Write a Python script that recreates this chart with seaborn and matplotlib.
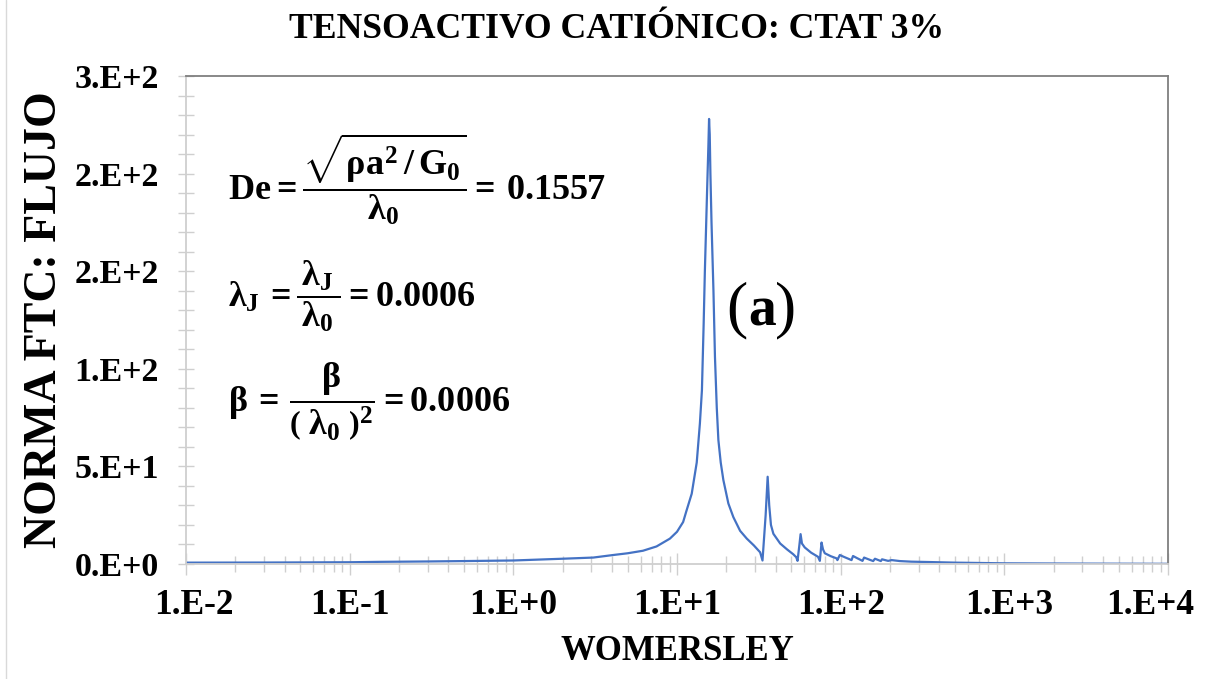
import matplotlib
matplotlib.use("Agg")
import matplotlib.pyplot as plt
from matplotlib.ticker import FixedLocator, MultipleLocator, NullFormatter, LogLocator
from matplotlib.lines import Line2D
from matplotlib.transforms import ScaledTranslation
import seaborn as sns
import pandas as pd

# Womersley number and normalized flow response (FTC norm)
womersley = [
    0.01, 0.03, 0.1, 0.153, 0.3, 0.5, 1.0, 2.0, 3.08, 4.07, 5.0, 6.2, 7.5, 9.05,
    10.0, 10.9, 11.4, 12.3, 13.2, 13.8, 14.2, 14.55, 14.8, 15.05, 15.28, 15.56,
    15.7, 15.85, 16.0, 16.25, 16.7, 17.06, 17.5, 17.9, 18.5, 19.2, 20.6, 22.1,
    24.3, 26.7, 29.5, 32.2, 33.3, 34.8, 35.8, 36.6, 37.5, 38.8, 42.7, 47.0, 51.3,
    53.5, 54.5, 56.0, 56.9, 58.0, 60.3, 66.0, 72.7, 74.6, 76.4, 78.0, 80.0, 87.0,
    94.3, 95.5, 98.8, 105, 116.5, 119, 126, 136, 139, 148, 158, 162, 170, 176,
    179, 195, 205, 230, 270, 350, 500, 1000, 3000, 10000,
]
norma_ftc = [
    0.7, 0.75, 0.9, 1.1, 1.3, 1.5, 1.8, 2.7, 3.3, 4.6, 5.5, 6.8, 9.0, 13.0,
    16.5, 21.5, 27.0, 36.0, 52.0, 72.0, 89.0, 123.0, 150.0, 172.0, 192.0, 215.0,
    228.0, 220.0, 200.0, 175.0, 140.0, 106.0, 80.0, 63.5, 52.0, 43.0, 31.0, 24.0,
    17.0, 13.0, 9.5, 6.0, 1.8, 25.0, 44.7, 30.0, 20.0, 15.5, 10.5, 7.5, 5.0,
    3.5, 1.6, 10.0, 15.3, 10.5, 8.5, 5.8, 3.7, 1.6, 11.0, 7.5, 5.5, 4.0,
    2.9, 2.0, 4.6, 3.6, 2.0, 4.1, 3.0, 1.6, 3.3, 2.4, 1.5, 2.7, 2.0, 1.5,
    2.4, 1.6, 2.0, 1.5, 1.2, 1.0, 0.7, 0.35, 0.2, 0.1,
]

x_ticks = [1e-2, 1e-1, 1e0, 1e1, 1e2, 1e3, 1e4]
x_tick_labels = ["1.E-2", "1.E-1", "1.E+0", "1.E+1", "1.E+2", "1.E+3", "1.E+4"]
y_ticks = [0, 50, 100, 150, 200, 250]
y_tick_labels = ["0.E+0", "5.E+1", "1.E+2", "2.E+2", "2.E+2", "3.E+2"]

sns.set_theme(style="white")
plt.rcParams["font.family"] = ["Liberation Serif", "DejaVu Serif"]
plt.rcParams["font.weight"] = "bold"
plt.rcParams["text.color"] = "black"
plt.rcParams["mathtext.fontset"] = "custom"
plt.rcParams["mathtext.rm"] = "Liberation Serif:bold"
plt.rcParams["mathtext.it"] = "Liberation Serif:bold"
plt.rcParams["mathtext.bf"] = "Liberation Serif:bold"

W, H = 1221, 679
fig = plt.figure(figsize=(W / 100, H / 100), dpi=100)
fig.patch.set_facecolor("white")
ax = fig.add_axes([186 / W, 1 - 564 / H, (1168 - 186) / W, (564 - 76) / H])

df = pd.DataFrame({"Womersley": womersley, "Norma": norma_ftc})
sns.lineplot(data=df, x="Womersley", y="Norma", ax=ax, color="#4472C4",
             linewidth=1.6, estimator=None, sort=False)

ax.set_xscale("log")
ax.set_xlim(1e-2, 1e4)
ax.set_ylim(0, 250)

ax.xaxis.set_major_locator(FixedLocator(x_ticks))
ax.set_xticklabels(x_tick_labels)
ax.xaxis.set_minor_locator(LogLocator(base=10, subs=range(2, 10), numticks=20))
ax.xaxis.set_minor_formatter(NullFormatter())
ax.yaxis.set_major_locator(FixedLocator(y_ticks))
ax.set_yticklabels(y_tick_labels)
ax.yaxis.set_minor_locator(MultipleLocator(10))

light = "#cfcfcf"
ax.tick_params(which="both", bottom=True, left=True, top=False, right=False)
ax.tick_params(axis="x", which="major", direction="inout", length=16, width=1,
               color=light, labelsize=25.5, pad=10, labelcolor="black")
ax.tick_params(axis="x", which="minor", direction="inout", length=11, width=1,
               color=light)
ax.tick_params(axis="y", which="both", direction="inout", length=11, width=1,
               color=light, labelsize=24.5, pad=14, labelcolor="black")
xlabels = ax.get_xticklabels()
for lbl in xlabels + ax.get_yticklabels():
    lbl.set_fontweight("bold")
# keep the end labels inside the plot width
xlabels[0].set_transform(xlabels[0].get_transform()
                         + ScaledTranslation(8 / 100, 0, fig.dpi_scale_trans))
xlabels[-1].set_transform(xlabels[-1].get_transform()
                          + ScaledTranslation(-18 / 100, 0, fig.dpi_scale_trans))
xlabels[-2].set_transform(xlabels[-2].get_transform()
                          + ScaledTranslation(5 / 100, 0, fig.dpi_scale_trans))

ax.spines["left"].set_color(light)
ax.spines["bottom"].set_color(light)
ax.spines["top"].set_color("#7f7f7f")
ax.spines["right"].set_color("#7f7f7f")
for s in ax.spines.values():
    s.set_linewidth(1.3)
ax.set_xlabel("")
ax.set_ylabel("")

fig.text(617 / W, 1 - 30 / H, "TENSOACTIVO CATIÓNICO: CTAT 3%", ha="center",
         va="center", fontsize=25.7, fontweight="bold")
fig.text(677 / W, 1 - 652 / H, "WOMERSLEY", ha="center", va="center",
         fontsize=25, fontweight="bold")
fig.text(45 / W, 1 - 320 / H, "NORMA FTC: FLUJO", ha="center", va="center",
         rotation=90, fontsize=33, fontweight="bold")

# dimensionless parameters
eq_kw = dict(transform=fig.transFigure, ha="left", va="center", fontsize=26)
fig.text(228 / W, 1 - 179 / H,
         r"$\mathrm{De}=\dfrac{\sqrt{\rho a^2\!\ /\!\ G_0}}{\lambda_0}=\,0.1557$",
         **eq_kw)
fig.text(228 / W, 1 - 296 / H,
         r"$\lambda_J\,=\dfrac{\,\lambda_J\,}{\,\lambda_0\,}=0.0006$", **eq_kw)
fig.text(228 / W, 1 - 402 / H,
         r"$\beta\,=\,\dfrac{\beta}{\left(\;\lambda_0\;\right)^2}=0.0006$", **eq_kw)

# panel tag
fig.text(737 / W, 1 - 310 / H, "(", ha="center", va="center", fontsize=46,
         fontweight="normal")
fig.text(762 / W, 1 - 312 / H, "a", ha="center", va="center", fontsize=40,
         fontweight="bold")
fig.text(786 / W, 1 - 310 / H, ")", ha="center", va="center", fontsize=46,
         fontweight="normal")

fig.add_artist(Line2D([6 / W, 6 / W], [0, 1], transform=fig.transFigure,
                      color="#d9d9d9", linewidth=1))

fig.savefig("out.png", dpi=100, facecolor="white")
